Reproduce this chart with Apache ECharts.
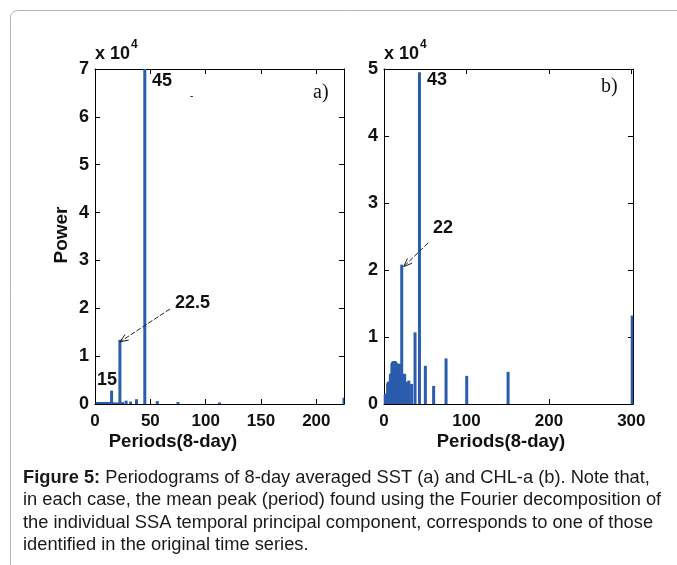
<!DOCTYPE html>
<html><head><meta charset="utf-8">
<script src="https://cdn.jsdelivr.net/npm/echarts/dist/echarts.min.js"></script>
<style>html,body{margin:0;padding:0;background:#fff;}#c{width:677px;height:565px;}</style>
</head><body><div id="c"></div>
<script>
// ---- Panel a) SST periodogram: periods (8-day units) and power ----
const periodsA = [225, 112.5, 75, 56.25, 45, 37.5, 32.14, 28.13, 25, 22.5, 20.45, 18.75, 17.31, 16.07, 15,
  14.06, 13.24, 12.5, 11.84, 11.25, 10.71, 10.23, 9.78, 9.38, 9, 8.65, 8.33, 8.04, 7.76, 7.5,
  6.82, 6.25, 5.77, 5.36, 5, 4.5, 4.09, 3.75, 3.46, 3.21, 3, 2.65, 2.37, 2.14, 2];
const powerA = [1300, 300, 400, 600, 70000, 1000, 500, 700, 400, 13400, 300, 300, 300, 300, 2800,
  400, 400, 400, 400, 400, 400, 400, 400, 400, 400, 400, 400, 400, 400, 400,
  400, 400, 400, 400, 400, 400, 400, 400, 400, 400, 400, 400, 400, 400, 400];

// ---- Panel b) CHL-a periodogram ----
const periodsB = [301, 150.5, 100.33, 75.25, 60.2, 50.17, 43, 37.63, 33.44, 30.1,
  27.36, 25.08, 23.15, 21.5, 20.07, 18.81, 17.71, 16.72, 15.84, 15.05,
  14.33, 13.68, 13.09, 12.54, 12.04, 11.58, 11.15, 10.75, 10.38, 10.03,
  9.71, 9.41, 9.12, 8.85, 8.6, 8.36, 8.14, 7.92, 7.72, 7.53,
  7.17, 6.84, 6.54, 6.27, 6.02, 5.57, 5.19, 4.86, 4.56, 4.3,
  3.86, 3.53, 3.24, 3.01, 2.69, 2.44, 2.24, 2.01, 1.5, 1.2];
const powerB = [13200, 4800, 4200, 6800, 2700, 5700, 49500, 10700, 3000, 3500,
  3300, 4500, 4500, 20800, 4600, 6000, 6000, 6000, 4800, 4800,
  6300, 6300, 6400, 6400, 6400, 6300, 6300, 6300, 6200, 6200,
  6000, 4500, 4500, 4500, 4500, 4500, 4500, 4400, 4300, 3400,
  3300, 3300, 3300, 3300, 3300, 3300, 3200, 3200, 3000, 1500,
  1500, 1500, 1500, 1500, 1500, 1500, 1500, 1500, 1400, 1400];

// ---- axis settings ----
const xMaxA = 225, xStepA = 50, yMaxA = 70000;
const xMaxB = 302, xStepB = 100, yMaxB = 50000;
const yStep = 10000;
const xName = 'Periods(8-day)';
const yName = 'Power';
const scaleLabel = 'x 10';
const scaleExp = '4';
const peakLabelsA = ['45', '22.5', '15'];
const peakLabelsB = ['43', '22'];
const caption = [
  '{b|Figure 5:} Periodograms of 8-day averaged SST (a) and CHL-a (b). Note that,',
  'in each case, the mean peak (period) found using the Fourier decomposition of',
  'the individual SSA temporal principal component, corresponds to one of those',
  'identified in the original time series.'
];

const BAR = '#2b5cad';
const INK = '#111';
const FONT = '"Liberation Sans", Arial, sans-serif';

function xAx(grid, max, step, top) {
  return {
    type: 'value', gridIndex: grid, min: 0, max: max, interval: step,
    position: top ? 'top' : 'bottom',
    axisLine: { show: true, onZero: false, lineStyle: { color: '#000', width: 1 } },
    axisTick: { show: true, inside: true, length: 5, lineStyle: { color: '#000' } },
    axisLabel: { show: !top, showMaxLabel: max % step === 0, margin: 9, color: INK,
      fontFamily: FONT, fontWeight: 'bold', fontSize: 17 },
    splitLine: { show: false }
  };
}
function yAx(grid, max, right) {
  return {
    type: 'value', gridIndex: grid, min: 0, max: max, interval: yStep,
    position: right ? 'right' : 'left',
    axisLine: { show: true, onZero: false, lineStyle: { color: '#000', width: 1 } },
    axisTick: { show: true, inside: true, length: 5, lineStyle: { color: '#000' } },
    axisLabel: { show: !right, margin: 6, color: INK, fontFamily: FONT, fontWeight: 'bold', fontSize: 18,
      formatter: v => String(v / 10000) },
    splitLine: { show: false }
  };
}

const chart = echarts.init(document.getElementById('c'), null, { renderer: 'canvas' });
chart.setOption({
  animation: false,
  backgroundColor: '#fff',
  grid: [
    { left: 95, top: 69, width: 249, height: 335 },
    { left: 384, top: 69, width: 249, height: 335 }
  ],
  xAxis: [xAx(0, xMaxA, xStepA, false), xAx(0, xMaxA, xStepA, true), xAx(1, xMaxB, xStepB, false), xAx(1, xMaxB, xStepB, true)],
  yAxis: [yAx(0, yMaxA, false), yAx(0, yMaxA, true), yAx(1, yMaxB, false), yAx(1, yMaxB, true)],
  series: [
    { type: 'bar', xAxisIndex: 0, yAxisIndex: 0, barWidth: 3, clip: true,
      itemStyle: { color: BAR }, data: periodsA.map((p, i) => [p, powerA[i]]) },
    { type: 'bar', xAxisIndex: 2, yAxisIndex: 2, barWidth: 3, clip: true,
      itemStyle: { color: BAR }, data: periodsB.map((p, i) => [p, powerB[i]]) }
  ]
});

const pa = (x, y) => chart.convertToPixel({ gridIndex: 0 }, [x, y]);
const pb = (x, y) => chart.convertToPixel({ gridIndex: 1 }, [x, y]);

function txt(s, x, y, opts, extra) {
  return Object.assign({ type: 'text', x: x, y: y, z: 100, style: Object.assign({
    text: s, fill: INK, fontFamily: FONT, fontWeight: 'bold', fontSize: 18,
    textAlign: 'left', textVerticalAlign: 'middle', align: 'left', verticalAlign: 'middle' }, opts || {}) }, extra || {});
}
function arrow(x1, y1, x2, y2) {
  const a = Math.atan2(y2 - y1, x2 - x1), L = 9, w = 0.38;
  return [
    { type: 'line', z: 100, shape: { x1, y1, x2, y2 }, style: { stroke: '#222', lineWidth: 1, lineDash: [5, 2] } },
    { type: 'polyline', z: 100, shape: { points: [
      [x2 - L * Math.cos(a - w), y2 - L * Math.sin(a - w)], [x2, y2],
      [x2 - L * Math.cos(a + w), y2 - L * Math.sin(a + w)]] }, style: { stroke: '#222', lineWidth: 1, fill: null } }
  ];
}

const tipA = pa(22.5, 13400);
const tipB = pb(21.5, 20800);
const g = [
  { type: 'rect', z: 0, shape: { x: 10.5, y: 10.5, width: 720, height: 620, r: 7 }, style: { stroke: '#b4b4b4', lineWidth: 1, fill: null } },
  txt(scaleLabel, 95, 54, { fontSize: 18 }), txt(scaleExp, 131, 45, { fontSize: 12 }),
  txt(scaleLabel, 384, 54, { fontSize: 18 }), txt(scaleExp, 420, 45, { fontSize: 12 }),
  txt(yName, 62, 235, { textAlign: 'center', align: 'center', fontSize: 19 }, { rotation: Math.PI / 2 }),
  txt(xName, 173, 442, { textAlign: 'center', align: 'center', fontSize: 18.5 }),
  txt(xName, 501, 442, { textAlign: 'center', align: 'center', fontSize: 18.5 }),
  txt(peakLabelsA[0], 152, 81),
  txt('a)', 313, 93, { fontFamily: '"Liberation Serif", serif', fontWeight: 'normal', fontSize: 20 }),
  txt('-', 190, 96, { fontSize: 10, fontWeight: 'normal' }),
  txt(peakLabelsA[1], 175, 303),
  txt(peakLabelsA[2], 97, 380),
  txt(peakLabelsB[0], 427, 80),
  txt('b)', 601, 87, { fontFamily: '"Liberation Serif", serif', fontWeight: 'normal', fontSize: 20 }),
  txt(peakLabelsB[1], 433, 228),
  ...arrow(170, 309, tipA[0], tipA[1] + 2),
  ...arrow(428, 243, tipB[0] + 2, tipB[1] + 2)
];
caption.forEach((line, i) => {
  g.push({ type: 'text', x: 23, y: 477.5 + i * 22.6, z: 100, style: {
    text: line, fill: '#1a1a1a', fontFamily: FONT, fontSize: 18.3, textAlign: 'left', align: 'left',
    textVerticalAlign: 'middle', verticalAlign: 'middle',
    rich: { b: { fontWeight: 'bold', fontFamily: FONT, fontSize: 18.3, fill: '#1a1a1a' } } } });
});
chart.setOption({ graphic: g });
</script>
</body></html>
